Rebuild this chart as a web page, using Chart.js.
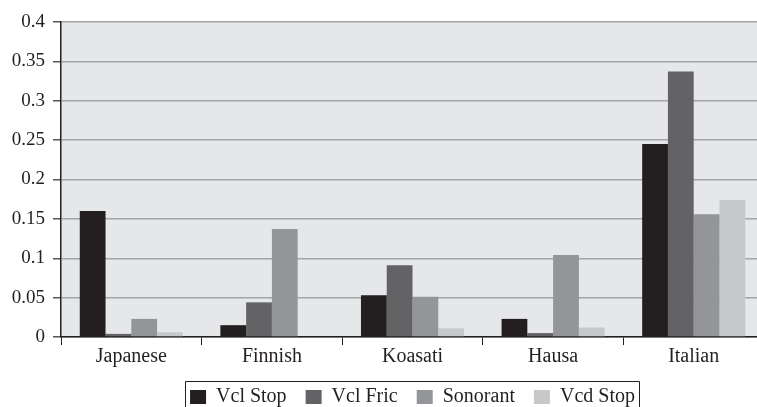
<!DOCTYPE html>
<html><head><meta charset="utf-8">
<script src="https://cdn.jsdelivr.net/npm/chart.js@4"></script>
<style>
html,body{margin:0;padding:0;background:#fff;overflow:hidden}
#wrap{width:757px;height:407px;overflow:hidden;position:relative;background:#fff}
canvas{position:absolute;left:0;top:0}
</style></head><body>
<div id="wrap"><canvas id="c" width="764" height="417"></canvas></div>
<script>
const categories = ['Japanese', 'Finnish', 'Koasati', 'Hausa', 'Italian'];
const vclStop  = [0.160, 0.015, 0.053, 0.023, 0.245];
const vclFric  = [0.004, 0.044, 0.091, 0.005, 0.337];
const sonorant = [0.023, 0.137, 0.051, 0.104, 0.156];
const vcdStop  = [0.006, 0.000, 0.011, 0.012, 0.174];
const seriesNames = ['Vcl Stop', 'Vcl Fric', 'Sonorant', 'Vcd Stop'];
const yTickLabels = ['0', '0.05', '0.1', '0.15', '0.2', '0.25', '0.3', '0.35', '0.4'];

const colors = ['#231f20', '#636365', '#939598', '#c7c8ca'];
const serif = 'Liberation Serif, Times New Roman, serif';

const plotBg = {
  id: 'plotBg',
  beforeDraw(chart) {
    const {ctx, chartArea: a} = chart;
    ctx.save();
    ctx.fillStyle = '#e6e7e8';
    ctx.fillRect(a.left, a.top, a.right - a.left, a.bottom - a.top);
    ctx.restore();
  }
};
const legendBorder = {
  id: 'legendBorder',
  afterDraw(chart) {
    const hb = chart.legend && chart.legend.legendHitBoxes;
    if (!hb || !hb.length) return;
    const first = hb[0], last = hb[hb.length - 1];
    const ctx = chart.ctx;
    ctx.save();
    ctx.strokeStyle = '#231f20';
    ctx.lineWidth = 1;
    const x0 = Math.round(first.left - 5) + 0.5;
    const x1 = Math.round(last.left + last.width + 4) + 0.5;
    const y0 = Math.round(first.top - 6) + 0.5;
    ctx.beginPath();
    ctx.moveTo(x0, chart.height + 2);
    ctx.lineTo(x0, y0);
    ctx.lineTo(x1, y0);
    ctx.lineTo(x1, chart.height + 2);
    ctx.stroke();
    ctx.restore();
  }
};

const seriesData = [vclStop, vclFric, sonorant, vcdStop];
new Chart(document.getElementById('c'), {
  type: 'bar',
  data: {
    labels: categories,
    datasets: seriesNames.map((n, i) => ({
      label: n,
      data: seriesData[i],
      backgroundColor: colors[i],
      borderWidth: 0,
      categoryPercentage: 0.733,
      barPercentage: 1.0
    }))
  },
  options: {
    responsive: false,
    animation: false,
    layout: {padding: {top: 22, left: 0, right: 0, bottom: 0}},
    plugins: {
      tooltip: {enabled: false},
      legend: {
        position: 'bottom',
        fullSize: false,
        labels: {
          font: {family: serif, size: 20},
          color: '#231f20',
          boxWidth: 16,
          boxHeight: 14,
          padding: 19
        }
      }
    },
    scales: {
      x: {
        grid: {offset: true, drawOnChartArea: false, drawTicks: true, tickLength: 8, tickColor: '#231f20', tickWidth: 1},
        border: {color: '#231f20', width: 1.5},
        ticks: {font: {family: serif, size: 20}, color: '#231f20', padding: 0, maxRotation: 0},
        afterFit(s) { s.height = 31; }
      },
      y: {
        min: 0, max: 0.4,
        ticks: {
          stepSize: 0.05,
          font: {family: serif, size: 19},
          color: '#231f20',
          padding: 8,
          callback: (v, i) => yTickLabels[i]
        },
        grid: {color: '#a2a4a7', lineWidth: 1.5, tickLength: 8, tickColor: '#555555'},
        border: {color: '#231f20', width: 1.5},
        afterFit(s) { s.width = 61; }
      }
    }
  },
  plugins: [plotBg, legendBorder]
});
</script>
</body></html>
